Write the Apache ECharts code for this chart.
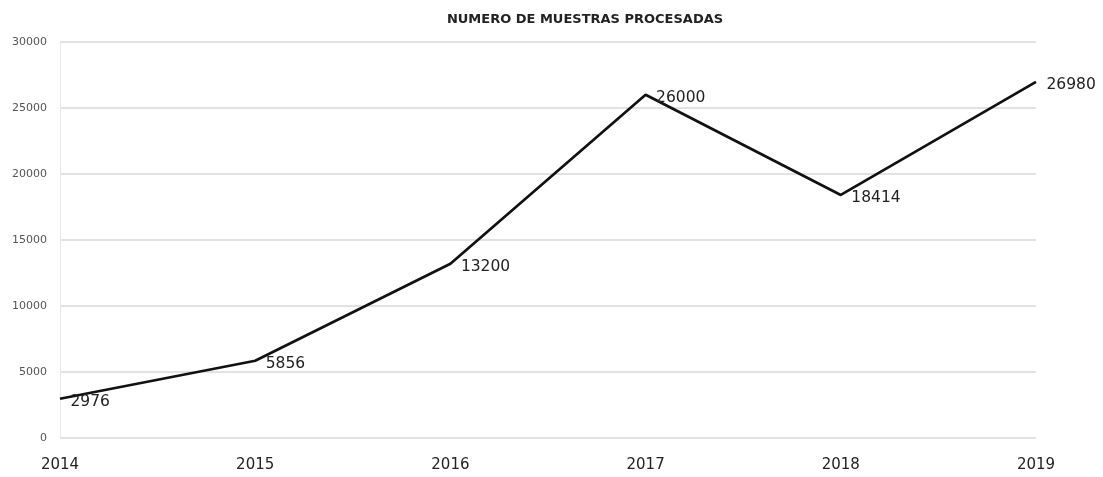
<!DOCTYPE html>
<html>
<head>
<meta charset="utf-8">
<script src="https://cdn.jsdelivr.net/npm/echarts@6/dist/echarts.min.js"></script>
<style>html,body{margin:0;padding:0;background:#fff}#c{width:1103px;height:477px}</style>
</head>
<body>
<div id="c"></div>
<script>
const titleText = "NUMERO DE MUESTRAS PROCESADAS";
const years = ["2014", "2015", "2016", "2017", "2018", "2019"];
const samples = [2976, 5856, 13200, 26000, 18414, 26980];
const yTicks = [0, 5000, 10000, 15000, 20000, 25000, 30000];

const chart = echarts.init(document.getElementById('c'));
chart.setOption({
  animation: false,
  backgroundColor: '#fff',
  title: {
    text: titleText, left: 580, top: 8, textAlign: 'center',
    textStyle: { fontFamily: 'DejaVu Sans, sans-serif', fontSize: 13, fontWeight: 'bold', color: '#222' }
  },
  grid: { left: 60, right: 67, top: 42, bottom: 39 },
  xAxis: {
    type: 'category', data: years, boundaryGap: false,
    axisLine: { show: false }, axisTick: { show: false },
    axisLabel: { fontFamily: 'DejaVu Sans, sans-serif', fontSize: 15, color: '#222', margin: 20 }
  },
  yAxis: {
    type: 'value', min: yTicks[0], max: yTicks[yTicks.length - 1], interval: 5000,
    axisLine: { show: true, lineStyle: { color: '#e6e6e6', width: 1 } },
    axisTick: { show: false },
    axisLabel: { fontFamily: 'DejaVu Sans, sans-serif', fontSize: 11, color: '#555', margin: 13, formatter: v => String(v) },
    splitLine: { lineStyle: { color: '#d9d9d9', width: 1.5 } }
  },
  series: [{
    type: 'line', data: samples, symbol: 'circle', symbolSize: 1, showSymbol: true,
    itemStyle: { color: '#111', opacity: 0 },
    lineStyle: { color: '#111', width: 2.7, opacity: 1 },
    label: {
      show: true, position: 'right', distance: 10, offset: [0, 3],
      fontFamily: 'DejaVu Sans, sans-serif', fontSize: 15.5, color: '#222', opacity: 1
    }
  }]
});
</script>
</body>
</html>
